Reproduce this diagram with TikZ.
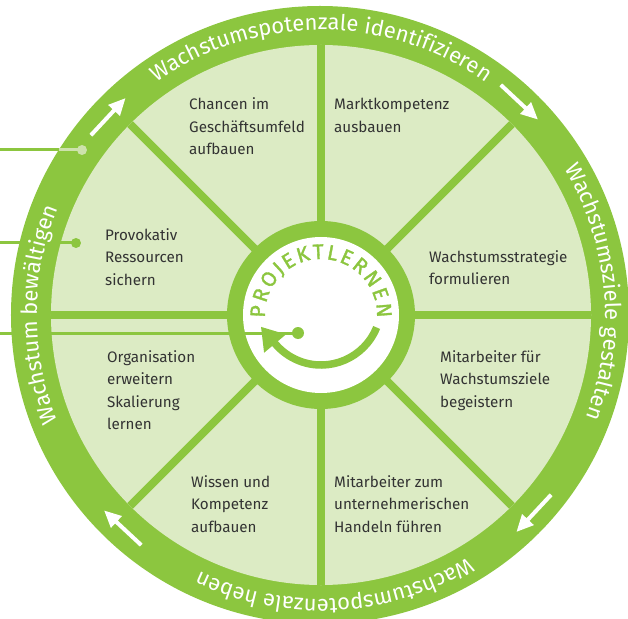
\documentclass[tikz,border=0pt]{standalone}
\usepackage{fontspec}
\setmainfont{Fira Sans}
\newfontfamily\projfont[FakeBold=1.5]{Fira Sans}
\usetikzlibrary{decorations.text,arrows.meta}
\definecolor{ringgreen}{RGB}{140,198,63}
\definecolor{lightfill}{RGB}{220,235,196}
\definecolor{dotlight}{RGB}{205,226,172}
\definecolor{txtgray}{RGB}{51,51,51}
\begin{document}
\begin{tikzpicture}[x=1pt,y=1pt,
  sector/.style={anchor=base west, align=left, text=txtgray, font=\fontsize{15.2}{22.5}\selectfont, inner sep=0pt},
  spoke/.style={ringgreen, line width=8pt},
  ringarrow/.style={white, line width=4pt, -{Triangle[width=15pt,length=17pt]}},
  ringtext/.style={decorate, decoration={text along path, text align=center, text color=white, text={|\fontsize{22}{22}\selectfont|#1}}},
  conn/.style={ringgreen, line width=3pt},
  dot/.style={circle, fill=ringgreen, inner sep=0pt, minimum size=11pt}
]
\useasboundingbox (-321,-303) rectangle (307,315);
% rings and disk
\fill[ringgreen] (-1,0) circle[radius=309];
\fill[lightfill] (0,0) circle[radius=270];
\foreach \a in {0,45,...,315} \draw[spoke] (0,0) -- (\a:270);
\fill[ringgreen] (0,0) circle[radius=94];
\fill[white] (0,0) circle[radius=78];
% left connectors (under the ring texts)
\coordinate (l1) at (-321,165);
\coordinate (x1) at (-262.3,165);
\node[dot, fill=dotlight, minimum size=10pt] (d1) at (-239,165) {};
\draw[conn] (l1) -- (x1);
\draw[conn, dotlight] (x1) -- (d1.center);
\coordinate (l2) at (-321,72);
\node[dot, minimum size=10pt] (d2) at (-245,72) {};
\draw[conn] (l2) -- (d2.center);
\coordinate (l3) at (-321,-18);
\node[dot, minimum size=12pt] (d3) at (-23,-18) {};
\draw[conn] (l3) -- (d3.center);
% ring texts
\path[ringtext={Wachstumspotenzale identifizieren}] (150:285) arc[start angle=150, end angle=30, radius=285];
\path[ringtext={Wachstumsziele gestalten}] (65:284) arc[start angle=65, end angle=-55, radius=284];
\path[ringtext={Wachstumspotenzale heben}] (-27:284) arc[start angle=-27, end angle=-147, radius=284];
\path[ringtext={Wachstum bewältigen}] (240:284) arc[start angle=240, end angle=120, radius=284];
% ring arrows
\foreach \a/\n in {137/a,47/b,-43/c,227/d} {
  \coordinate (\n s) at (\a+5:292);
  \coordinate (\n e) at (\a-5:292);
  \draw[ringarrow] (\n s) -- (\n e);
}
% center text
\path[decorate, decoration={text along path, text align=fit to path, text color=ringgreen, text={|\projfont\fontsize{21}{21}\selectfont|PROJEKTLERNEN}}] (183:56) arc[start angle=183, end angle=-3, radius=56];
% center circular arrow
\coordinate (cc) at (0,10);
\draw[ringgreen, line width=7.5pt, -{Triangle[width=27pt,length=22pt]}] (cc) ++(-22:60) arc[start angle=-22, end angle=-140, radius=60] -- ++(130:22);
% sector texts (anchor = baseline of last line)
\node[sector] (s1) at (-132,160) {Chancen im\\Geschäftsumfeld\\aufbauen};
\node[sector] (s2) at (13,182.5) {Marktkompetenz\\ausbauen};
\node[sector] (s3) at (108,30.5) {Wachstumsstrategie\\formulieren};
\node[sector] (s4) at (119,-92) {Mitarbeiter für\\Wachstumsziele\\begeistern};
\node[sector] (s5) at (13,-217) {Mitarbeiter zum\\unternehmerischen\\Handeln führen};
\node[sector] (s6) at (-130,-217) {Wissen und\\Kompetenz\\aufbauen};
\node[sector] (s7) at (-214,-114.5) {Organisation\\erweitern\\Skalierung\\lernen};
\node[sector] (s8) at (-216,30) {Provokativ\\Ressourcen\\sichern};
\end{tikzpicture}
\end{document}
